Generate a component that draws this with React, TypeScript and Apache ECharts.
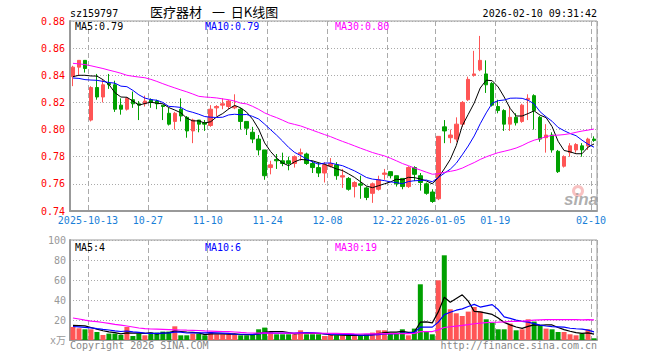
import React, { useEffect, useRef } from 'react';
import * as echarts from 'echarts';

const MONO = '"DejaVu Sans Mono", "Noto Sans CJK SC", monospace';
const CJK = '"Noto Sans CJK SC", "DejaVu Sans", sans-serif';
const RED = '#ff5555';
const GREEN = '#00a000';

const dates = [
  '2025-09-30', '2025-10-09', '2025-10-10',
  '2025-10-13', '2025-10-14', '2025-10-15', '2025-10-16', '2025-10-17',
  '2025-10-20', '2025-10-21', '2025-10-22', '2025-10-23', '2025-10-24',
  '2025-10-27', '2025-10-28', '2025-10-29', '2025-10-30', '2025-10-31',
  '2025-11-03', '2025-11-04', '2025-11-05', '2025-11-06', '2025-11-07',
  '2025-11-10', '2025-11-11', '2025-11-12', '2025-11-13', '2025-11-14',
  '2025-11-17', '2025-11-18', '2025-11-19', '2025-11-20', '2025-11-21',
  '2025-11-24', '2025-11-25', '2025-11-26', '2025-11-27', '2025-11-28',
  '2025-12-01', '2025-12-02', '2025-12-03', '2025-12-04', '2025-12-05',
  '2025-12-08', '2025-12-09', '2025-12-10', '2025-12-11', '2025-12-12',
  '2025-12-15', '2025-12-16', '2025-12-17', '2025-12-18', '2025-12-19',
  '2025-12-22', '2025-12-23', '2025-12-24', '2025-12-25', '2025-12-26',
  '2025-12-29', '2025-12-30', '2025-12-31',
  '2026-01-05', '2026-01-06', '2026-01-07', '2026-01-08', '2026-01-09',
  '2026-01-12', '2026-01-13', '2026-01-14', '2026-01-15', '2026-01-16',
  '2026-01-19', '2026-01-20', '2026-01-21', '2026-01-22', '2026-01-23',
  '2026-01-26', '2026-01-27', '2026-01-28', '2026-01-29', '2026-01-30',
  '2026-02-02', '2026-02-03', '2026-02-04', '2026-02-05', '2026-02-06',
  '2026-02-09', '2026-02-10',
];

const tickIndex = [3, 13, 23, 33, 43, 53, 61, 71, 87];
const tickText = ['2025-10-13', '10-27', '11-10', '11-24', '12-08', '12-22', '2026-01-05', '01-19', '02-10'];

const priceTicks = [0.74, 0.88, 0.02];
const volumeTicks = [0, 100, 20];

const opens = [
  0.839, 0.846, 0.851, 0.807, 0.831, 0.824, 0.834, 0.833, 0.818, 0.815,
  0.822, 0.819, 0.819, 0.822, 0.821, 0.818, 0.812, 0.806, 0.815, 0.809,
  0.799, 0.807, 0.805, 0.803, 0.816, 0.818, 0.817, 0.816, 0.815, 0.806,
  0.798, 0.793, 0.785, 0.772, 0.778, 0.777, 0.777, 0.775, 0.782, 0.782,
  0.775, 0.772, 0.768, 0.773, 0.774, 0.765, 0.764, 0.758, 0.760, 0.757,
  0.753, 0.756, 0.767, 0.769, 0.766, 0.764, 0.758, 0.772, 0.766, 0.760,
  0.754, 0.749, 0.802, 0.794, 0.793, 0.804, 0.822, 0.840, 0.844, 0.841,
  0.834, 0.817, 0.814, 0.804, 0.809, 0.806, 0.822, 0.825, 0.809, 0.794,
  0.796, 0.784, 0.773, 0.783, 0.785, 0.788, 0.788, 0.793,
];
const closes = [
  0.846, 0.851, 0.845, 0.831, 0.824, 0.833, 0.833, 0.815, 0.815, 0.823,
  0.819, 0.818, 0.821, 0.820, 0.819, 0.817, 0.804, 0.812, 0.810, 0.799,
  0.807, 0.804, 0.804, 0.815, 0.817, 0.819, 0.821, 0.817, 0.806, 0.801,
  0.793, 0.785, 0.766, 0.774, 0.777, 0.775, 0.775, 0.780, 0.783, 0.775,
  0.772, 0.768, 0.774, 0.775, 0.766, 0.766, 0.756, 0.761, 0.759, 0.750,
  0.760, 0.763, 0.768, 0.766, 0.760, 0.758, 0.772, 0.767, 0.761, 0.753,
  0.747, 0.795, 0.799, 0.796, 0.804, 0.820, 0.837, 0.841, 0.851, 0.833,
  0.818, 0.814, 0.804, 0.809, 0.805, 0.818, 0.823, 0.814, 0.793, 0.796,
  0.785, 0.769, 0.780, 0.788, 0.789, 0.785, 0.793, 0.792,
];
const lows = [
  0.832, 0.840, 0.842, 0.806, 0.822, 0.820, 0.830, 0.813, 0.811, 0.814,
  0.816, 0.807, 0.817, 0.816, 0.815, 0.807, 0.803, 0.800, 0.806, 0.794,
  0.790, 0.798, 0.799, 0.802, 0.810, 0.815, 0.815, 0.815, 0.800, 0.796,
  0.790, 0.781, 0.763, 0.767, 0.771, 0.773, 0.770, 0.772, 0.777, 0.774,
  0.768, 0.765, 0.761, 0.772, 0.763, 0.757, 0.755, 0.750, 0.749, 0.748,
  0.746, 0.755, 0.763, 0.764, 0.758, 0.756, 0.757, 0.762, 0.755, 0.752,
  0.746, 0.748, 0.790, 0.790, 0.791, 0.802, 0.821, 0.839, 0.843, 0.827,
  0.817, 0.812, 0.799, 0.799, 0.803, 0.805, 0.807, 0.800, 0.791, 0.783,
  0.783, 0.768, 0.772, 0.780, 0.783, 0.780, 0.785, 0.791,
];
const highs = [
  0.847, 0.851, 0.851, 0.832, 0.841, 0.837, 0.841, 0.836, 0.823, 0.824,
  0.828, 0.821, 0.825, 0.823, 0.822, 0.818, 0.816, 0.813, 0.823, 0.810,
  0.808, 0.807, 0.807, 0.818, 0.818, 0.823, 0.822, 0.826, 0.816, 0.806,
  0.802, 0.796, 0.785, 0.777, 0.782, 0.783, 0.780, 0.781, 0.786, 0.783,
  0.777, 0.776, 0.776, 0.779, 0.776, 0.771, 0.765, 0.762, 0.766, 0.758,
  0.761, 0.766, 0.771, 0.769, 0.766, 0.764, 0.773, 0.773, 0.768, 0.761,
  0.756, 0.795, 0.807, 0.800, 0.809, 0.821, 0.839, 0.858, 0.869, 0.851,
  0.835, 0.822, 0.815, 0.817, 0.812, 0.819, 0.826, 0.826, 0.810, 0.804,
  0.798, 0.785, 0.781, 0.790, 0.790, 0.790, 0.794, 0.795,
];
// volume in 万
const volumes = [
  13.0, 11.7, 10.7, 10.7, 8.0, 5.0, 6.4, 6.4, 5.0, 13.0,
  4.0, 6.4, 4.7, 7.4, 7.4, 8.4, 8.4, 13.7, 4.7, 4.7,
  6.4, 6.4, 4.7, 8.0, 5.7, 5.7, 5.7, 5.7, 4.7, 4.7,
  5.7, 10.7, 12.4, 8.0, 5.7, 5.7, 5.7, 5.7, 9.7, 5.7,
  5.7, 5.7, 4.0, 5.0, 4.7, 4.7, 4.7, 4.7, 4.0, 5.7,
  7.4, 9.7, 9.7, 6.4, 6.4, 10.7, 4.7, 11.4, 55.7, 8.0,
  5.7, 59.7, 84.7, 30.7, 26.7, 24.0, 28.4, 33.0, 28.4, 20.7,
  17.4, 10.7, 10.7, 16.4, 9.7, 10.7, 20.7, 18.4, 14.0, 11.4,
  10.7, 8.0, 8.0, 5.7, 4.7, 6.4, 10.7, 1.7,
];

// moving-average values at the start of the window (they depend on earlier days)
const ma5Lead = [0.839, 0.840, 0.840, 0.8395];
const ma10Lead = [0.838, 0.8377, 0.8368, 0.8365, 0.8363, 0.8355, 0.8347, 0.8342, 0.832];
const ma30Lead = [
  0.8488, 0.8484, 0.8479, 0.8470, 0.846, 0.845, 0.8438, 0.8427, 0.8415, 0.840,
  0.8393, 0.8387, 0.8382, 0.837, 0.8355, 0.8338, 0.8322, 0.8307, 0.8292, 0.8278,
  0.8262, 0.8245, 0.8240, 0.8237, 0.8233, 0.8226, 0.822, 0.821, 0.8195,
];
const vma5Lead = [14.6, 14.4, 14.1, 12.5];
const vma10Lead = [13.5, 13.1, 12.7, 12.2, 11.3, 10.6, 10.0, 9.2, 8.5];
const vma30Lead = [
  22, 21, 19.9, 18.9, 18.3, 17.5, 16.6, 15.7, 14.9, 14,
  13, 12, 11.3, 11, 10.8, 10.6, 10.4, 10.2, 10, 9.8,
  9.7, 9.5, 9.1, 8.9, 8.7, 8.5, 8.3, 8.0, 7.6,
];

const priceLegend = ['MA5:0.79', 'MA10:0.79', 'MA30:0.80'];
const volumeLegend = ['MA5:4', 'MA10:6', 'MA30:19'];

function movingAverage(values: number[], n: number, lead: number[]) {
  return values.map((_, i) => {
    if (i < n - 1) return lead[i];
    let s = 0;
    for (let k = i - n + 1; k <= i; k++) s += values[k];
    return +(s / n).toFixed(4);
  });
}

const ma5 = movingAverage(closes, 5, ma5Lead);
const ma10 = movingAverage(closes, 10, ma10Lead);
const ma30 = movingAverage(closes, 30, ma30Lead);
const vma5 = movingAverage(volumes, 5, vma5Lead);
const vma10 = movingAverage(volumes, 10, vma10Lead);
const vma30 = movingAverage(volumes, 30, vma30Lead);

const candleData = opens.map((o, i) => [o, closes[i], lows[i], highs[i]]);
const volumeData = volumes.map((v, i) => ({
  value: v,
  itemStyle: { color: closes[i] > opens[i] ? RED : GREEN },
}));

const isTick = (i: number) => tickIndex.indexOf(i) >= 0;

function txt(text: string, x: number, y: number, color: string, font: string, align = 'left') {
  return {
    type: 'text',
    x,
    y,
    silent: true,
    z: 100,
    style: {
      text,
      fill: color,
      font,
      textAlign: align,
      align,
      textVerticalAlign: 'middle',
      verticalAlign: 'middle',
    },
  };
}

const splitX = {
  show: true,
  interval: (i: number) => isTick(i),
  lineStyle: { color: '#aaaaaa', type: [5, 3], width: 1 },
};

const option: any = {
  animation: false,
  backgroundColor: '#ffffff',
  grid: [
    { left: 70, right: 63, top: 21, height: 190, show: true, borderColor: '#999999', borderWidth: 1 },
    { left: 70, right: 63, top: 240, height: 100, show: true, borderColor: '#999999', borderWidth: 1 },
  ],
  xAxis: [
    {
      type: 'category',
      gridIndex: 0,
      data: dates,
      boundaryGap: true,
      axisLine: { show: true, lineStyle: { color: '#999999', width: 2 } },
      axisTick: { show: false },
      axisLabel: {
        interval: (i: number) => isTick(i),
        formatter: (_v: string, i: number) => tickText[tickIndex.indexOf(i)] ?? '',
        color: '#1a7fd8',
        fontFamily: MONO,
        fontSize: 10,
        margin: 4,
        padding: [0, 6, 0, 0],
      },
      splitLine: splitX,
    },
    {
      type: 'category',
      gridIndex: 1,
      data: dates,
      boundaryGap: true,
      axisLine: { show: true, lineStyle: { color: '#999999', width: 2 } },
      axisTick: { show: false },
      axisLabel: { show: false },
      splitLine: splitX,
    },
  ],
  yAxis: [
    {
      type: 'value',
      gridIndex: 0,
      min: priceTicks[0],
      max: priceTicks[1],
      interval: priceTicks[2],
      axisLine: { show: true, lineStyle: { color: '#999999', width: 2 } },
      axisTick: { show: false },
      axisLabel: {
        color: '#ff0000',
        fontFamily: MONO,
        fontSize: 10,
        margin: 5,
        formatter: (v: number) => v.toFixed(2),
      },
      splitLine: { show: true, lineStyle: { color: '#aaaaaa', type: [1, 2], width: 1 } },
    },
    {
      type: 'value',
      gridIndex: 1,
      min: volumeTicks[0],
      max: volumeTicks[1],
      interval: volumeTicks[2],
      axisLine: { show: true, lineStyle: { color: '#999999', width: 2 } },
      axisTick: { show: false },
      axisLabel: {
        color: '#999999',
        fontFamily: MONO,
        fontSize: 10,
        margin: 4,
        formatter: (v: number) => (v === 0 ? 'x万' : String(Math.round(v))),
      },
      splitLine: { show: true, lineStyle: { color: '#aaaaaa', type: [1, 2], width: 1 } },
    },
  ],
  series: [
    {
      type: 'candlestick',
      xAxisIndex: 0,
      yAxisIndex: 0,
      data: candleData,
      barWidth: 4,
      itemStyle: { color: RED, color0: GREEN, borderColor: RED, borderColor0: GREEN, borderWidth: 1 },
    },
    { type: 'line', xAxisIndex: 0, yAxisIndex: 0, data: ma5, showSymbol: false, lineStyle: { color: '#000000', width: 1 } },
    { type: 'line', xAxisIndex: 0, yAxisIndex: 0, data: ma10, showSymbol: false, lineStyle: { color: '#0000ff', width: 1 } },
    { type: 'line', xAxisIndex: 0, yAxisIndex: 0, data: ma30, showSymbol: false, lineStyle: { color: '#ff00ff', width: 1 } },
    { type: 'bar', xAxisIndex: 1, yAxisIndex: 1, data: volumeData, barWidth: 5 },
    { type: 'line', xAxisIndex: 1, yAxisIndex: 1, data: vma5, showSymbol: false, lineStyle: { color: '#000000', width: 1.2 } },
    { type: 'line', xAxisIndex: 1, yAxisIndex: 1, data: vma10, showSymbol: false, lineStyle: { color: '#0000ff', width: 1.2 } },
    { type: 'line', xAxisIndex: 1, yAxisIndex: 1, data: vma30, showSymbol: false, lineStyle: { color: '#ff00ff', width: 1.2 } },
  ],
  graphic: [
    txt('sz159797', 70, 13, '#000000', `10px ${MONO}`),
    txt('医疗器材', 150, 11.5, '#000000', `13px ${CJK}`),
    txt('一  日K线图', 212, 11.5, '#000000', `13px ${CJK}`),
    txt('2026-02-10 09:31:42', 597, 13, '#000000', `10px ${MONO}`, 'right'),
    txt(priceLegend[0], 75, 26, '#000000', `10px ${MONO}`),
    txt(priceLegend[1], 205, 26, '#0000ff', `10px ${MONO}`),
    txt(priceLegend[2], 335, 26, '#ff00ff', `10px ${MONO}`),
    txt(volumeLegend[0], 75, 247, '#000000', `10px ${MONO}`),
    txt(volumeLegend[1], 205, 247, '#0000ff', `10px ${MONO}`),
    txt(volumeLegend[2], 335, 247, '#ff00ff', `10px ${MONO}`),
    txt('Copyright 2026 SINA.COM', 70, 345.5, '#888888', `10px ${MONO}`),
    txt('http://finance.sina.com.cn', 597, 345.5, '#888888', `10px ${MONO}`, 'right'),
    {
      type: 'ring',
      silent: true,
      z: 90,
      shape: { cx: 578, cy: 191, r: 6, r0: 3 },
      style: { fill: 'rgba(240,120,120,0.45)' },
    },
    txt('sina', 581, 199, 'rgba(140,140,140,0.7)', `italic bold 17px "Liberation Sans", Arial, sans-serif`, 'center'),
  ],
};

export default function App() {
  const ref = useRef<HTMLDivElement>(null);
  useEffect(() => {
    const chart = echarts.init(ref.current as HTMLDivElement, null, { renderer: 'svg' });
    chart.setOption(option);
    return () => chart.dispose();
  }, []);
  return <div ref={ref} style={{ position: 'fixed', left: 0, top: 0, width: 660, height: 360 }} />;
}
